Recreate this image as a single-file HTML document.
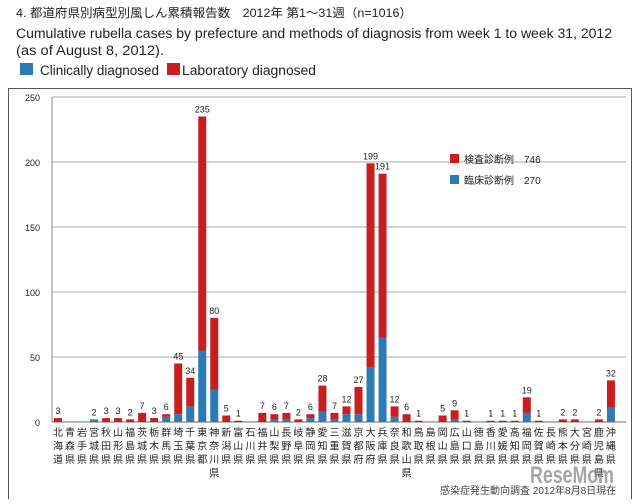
<!DOCTYPE html>
<html><head><meta charset="utf-8"><style>
body{margin:0;background:#fff;width:640px;height:499px;overflow:hidden;font-family:"Liberation Sans","Noto Sans CJK JP",sans-serif;}
</style></head><body>
<svg width="640" height="499" xmlns="http://www.w3.org/2000/svg" font-family="Liberation Sans, Noto Sans CJK JP, sans-serif">
<text x="16" y="17" font-size="12" fill="#222" textLength="396" lengthAdjust="spacingAndGlyphs">4.  都道府県別病型別風しん累積報告数　2012年 第1～31週（n=1016）</text>
<text x="16" y="38" font-size="13.5" fill="#222" textLength="596" lengthAdjust="spacingAndGlyphs">Cumulative rubella cases by prefecture and methods of diagnosis from week 1 to week 31, 2012</text>
<text x="16" y="55" font-size="13.5" fill="#222" textLength="148" lengthAdjust="spacingAndGlyphs">(as of August 8, 2012).</text>
<g>
<rect x="20" y="63" width="13" height="12" fill="#2c7bb6"/><text x="40" y="75" font-size="13.5" fill="#222" textLength="119" lengthAdjust="spacingAndGlyphs">Clinically diagnosed</text>
<rect x="167" y="63" width="13" height="12" fill="#c81e1e"/><text x="182" y="75" font-size="13.5" fill="#222" textLength="134" lengthAdjust="spacingAndGlyphs">Laboratory diagnosed</text>
</g>
<rect x="8.5" y="88.5" width="623" height="420" fill="none" stroke="#555"/>
<g id="grid"></g><g id="bars"></g><g id="xl"></g>
<g>
<rect x="450" y="154" width="9" height="9" fill="#c81e1e"/><text x="464" y="163" font-size="10" fill="#222">検査診断例　746</text>
<rect x="450" y="175" width="9" height="9" fill="#2c7bb6"/><text x="464" y="184" font-size="10" fill="#222">臨床診断例　270</text>
</g>
<text x="440" y="494" font-size="10" fill="#444">感染症発生動向調査 2012年8月8日現在</text>
<text x="530" y="483" font-size="24" font-weight="bold" fill="#888" opacity="0.75" textLength="84" lengthAdjust="spacingAndGlyphs">ReseMom</text>
</svg>
<script>
const categories=["北海道","青森県","岩手県","宮城県","秋田県","山形県","福島県","茨城県","栃木県","群馬県","埼玉県","千葉県","東京都","神奈川県","新潟県","富山県","石川県","福井県","山梨県","長野県","岐阜県","静岡県","愛知県","三重県","滋賀県","京都府","大阪府","兵庫県","奈良県","和歌山県","鳥取県","島根県","岡山県","広島県","山口県","徳島県","香川県","愛媛県","高知県","福岡県","佐賀県","長崎県","熊本県","大分県","宮崎県","鹿児島県","沖縄県"];
const totals=[3,0,0,2,3,3,2,7,3,6,45,34,235,80,5,1,0,7,6,7,2,6,28,7,12,27,199,191,12,6,1,0,5,9,1,0,1,1,1,19,1,0,2,2,0,2,32];
const clinical=[0,0,0,2,0,0,0,0,0,4,6,12,55,25,0,0,0,0,2,2,0,3,8,2,6,6,42,65,4,0,0,0,0,2,0,0,0,0,0,7,0,0,0,0,0,0,11];
const yTicks=[0,50,100,150,200,250];
const NS="http://www.w3.org/2000/svg";
const y0=422,k=1.3,x0=52,step=12.02,bw=8;
const Y=v=>y0-v*k, X=i=>x0+step*i+step/2;
function mk(t,a,p){const e=document.createElementNS(NS,t);for(const n in a)e.setAttribute(n,a[n]);p.appendChild(e);return e;}
const grid=document.getElementById('grid'),bars=document.getElementById('bars'),xl=document.getElementById('xl');
yTicks.forEach(v=>{
 const l=mk('line',{x1:x0,x2:626,y1:Y(v),y2:Y(v),stroke:v===0?'#888':'#bbb','stroke-width':v===0?1.2:1.3},grid);
 
 
 const t=mk('text',{x:40,y:Y(v)+4,'font-size':9,'text-anchor':'end',fill:'#222'},grid);t.textContent=v;
 
 
});
mk('line',{x1:x0,x2:x0,y1:Y(250),y2:y0,stroke:'#888'},grid);
categories.forEach((c,i)=>{
 const cx=X(i),tot=totals[i],cl=clinical[i],lab=tot-cl;
 const r1=mk('rect',{x:cx-bw/2,y:Y(cl),width:bw,height:cl*k,fill:'#2c7bb6'},bars);
 
 
 const r2=mk('rect',{x:cx-bw/2,y:Y(tot),width:bw,height:lab*k,fill:'#c81e1e'},bars);
 
 
 if(tot>0){const t=mk('text',{x:cx,y:Y(tot)-4,'font-size':9,'text-anchor':'middle',fill:'#222'},bars);t.textContent=tot;
 
 }
 const g=mk('text',{x:cx,'font-size':10,'text-anchor':'middle',fill:'#222'},xl);
 
 
 [...c].forEach((ch,j)=>{const s=mk('tspan',{x:cx,y:436+j*13.5},g);s.textContent=ch;});
});
</script>
</body></html>
